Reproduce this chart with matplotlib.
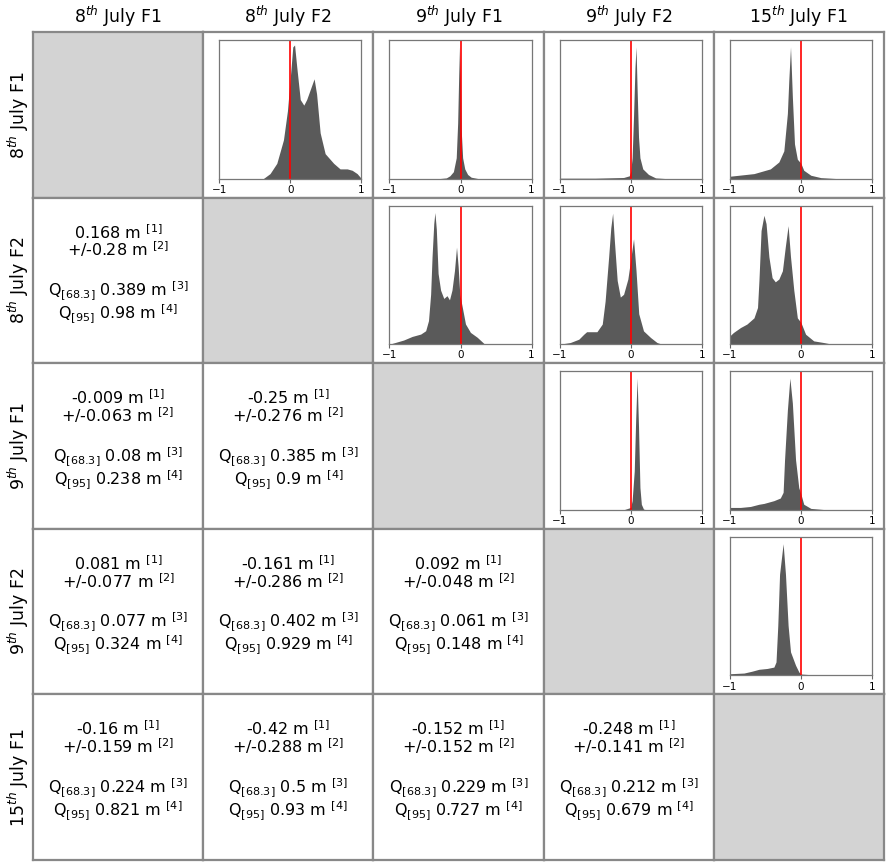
import matplotlib
matplotlib.use("Agg")
import matplotlib.pyplot as plt

# flight names (rows and columns)
labels = ["8$^{th}$ July F1", "8$^{th}$ July F2", "9$^{th}$ July F1",
          "9$^{th}$ July F2", "15$^{th}$ July F1"]

# lower triangle: mean, std, Q68.3, Q95 (m), keyed by (row, col)
stats = {
    (1, 0): ("0.168", "0.28", "0.389", "0.98"),
    (2, 0): ("-0.009", "0.063", "0.08", "0.238"),
    (2, 1): ("-0.25", "0.276", "0.385", "0.9"),
    (3, 0): ("0.081", "0.077", "0.077", "0.324"),
    (3, 1): ("-0.161", "0.286", "0.402", "0.929"),
    (3, 2): ("0.092", "0.048", "0.061", "0.148"),
    (4, 0): ("-0.16", "0.159", "0.224", "0.821"),
    (4, 1): ("-0.42", "0.288", "0.5", "0.93"),
    (4, 2): ("-0.152", "0.152", "0.229", "0.727"),
    (4, 3): ("-0.248", "0.141", "0.212", "0.679"),
}

# upper triangle: difference histograms (x in m, relative density)
h01_x = [-0.38, -0.285, -0.19, -0.096, -0.04, 0.0, 0.035, 0.06, 0.09, 0.14, 0.19, 0.23,
         0.3, 0.335, 0.37, 0.42, 0.49, 0.61, 0.70, 0.8, 0.87, 0.94, 1.0]
h01_y = [0.0, 0.036, 0.11, 0.28, 0.49, 0.73, 0.95, 0.964, 0.81, 0.57, 0.53, 0.57,
         0.67, 0.72, 0.61, 0.33, 0.18, 0.11, 0.07, 0.07, 0.06, 0.036, 0.0]

h02_x = [-0.3, -0.2, -0.15, -0.1, -0.06, -0.04, -0.025, -0.014, 0.0, 0.01, 0.03, 0.06,
         0.1, 0.15, 0.25]
h02_y = [0.0, 0.005, 0.02, 0.05, 0.15, 0.4, 0.75, 0.95, 0.7, 0.35, 0.15, 0.07,
         0.03, 0.01, 0.0]

h03_x = [-1.0, -0.5, -0.1, -0.02, 0.0, 0.02, 0.04, 0.06, 0.075, 0.09, 0.11, 0.13,
         0.17, 0.25, 0.35, 0.5]
h03_y = [0.003, 0.003, 0.008, 0.02, 0.05, 0.15, 0.45, 0.8, 0.95, 0.65, 0.3, 0.15,
         0.07, 0.03, 0.005, 0.0]

h04_x = [-1.0, -0.66, -0.43, -0.31, -0.24, -0.19, -0.17, -0.146, -0.12, -0.09, -0.05,
         0.0, 0.04, 0.14, 0.28, 0.51]
h04_y = [0.017, 0.036, 0.07, 0.12, 0.2, 0.47, 0.71, 0.95, 0.59, 0.25, 0.14,
         0.11, 0.06, 0.024, 0.007, 0.0]

h12_x = [-1.0, -0.92, -0.8, -0.68, -0.56, -0.49, -0.45, -0.42, -0.4, -0.376, -0.36,
         -0.34, -0.315, -0.28, -0.235, -0.19, -0.155, -0.12, -0.085, -0.056, -0.033,
         -0.01, 0.024, 0.07, 0.14, 0.235, 0.33, 0.35]
h12_y = [0.0, 0.012, 0.03, 0.056, 0.073, 0.097, 0.17, 0.36, 0.63, 0.87, 0.95,
         0.83, 0.51, 0.39, 0.33, 0.35, 0.32, 0.39, 0.53, 0.70, 0.56,
         0.36, 0.27, 0.146, 0.085, 0.05, 0.005, 0.0]

h13_x = [-1.0, -0.85, -0.73, -0.66, -0.62, -0.475, -0.4, -0.36, -0.31, -0.28, -0.254,
         -0.23, -0.19, -0.146, -0.1, -0.04, 0.005, 0.04, 0.075, 0.113, 0.18, 0.28,
         0.37, 0.44]
h13_y = [0.0, 0.012, 0.036, 0.072, 0.09, 0.09, 0.145, 0.31, 0.63, 0.84, 0.945,
         0.75, 0.46, 0.34, 0.36, 0.47, 0.63, 0.76, 0.53, 0.22, 0.096, 0.048,
         0.012, 0.0]

h14_x = [-1.0, -0.95, -0.85, -0.76, -0.66, -0.61, -0.59, -0.56, -0.52, -0.49, -0.45,
         -0.405, -0.36, -0.31, -0.26, -0.22, -0.18, -0.146, -0.1, -0.05, 0.0, 0.066,
         0.18, 0.32, 0.44]
h14_y = [0.06, 0.084, 0.12, 0.145, 0.19, 0.265, 0.46, 0.82, 0.93, 0.87, 0.63,
         0.48, 0.45, 0.47, 0.53, 0.70, 0.855, 0.63, 0.39, 0.19, 0.157, 0.072,
         0.024, 0.012, 0.0]

h23_x = [-0.1, 0.0, 0.02, 0.05, 0.07, 0.09, 0.11, 0.13, 0.15, 0.18, 0.22]
h23_y = [0.0, 0.017, 0.066, 0.28, 0.65, 0.95, 0.6, 0.16, 0.04, 0.005, 0.0]

h24_x = [-1.0, -0.85, -0.71, -0.59, -0.52, -0.38, -0.29, -0.25, -0.23, -0.19, -0.155,
         -0.12, -0.075, -0.03, 0.0, 0.04, 0.14, 0.32, 0.55]
h24_y = [0.017, 0.017, 0.024, 0.04, 0.046, 0.066, 0.085, 0.126, 0.36, 0.72, 0.95,
         0.77, 0.36, 0.16, 0.114, 0.04, 0.01, 0.002, 0.0]

h34_x = [-1.0, -0.8, -0.69, -0.59, -0.475, -0.38, -0.35, -0.325, -0.3, -0.25, -0.217,
         -0.18, -0.146, -0.075, -0.028, 0.0, 0.14, 1.0]
h34_y = [0.012, 0.017, 0.03, 0.044, 0.05, 0.06, 0.097, 0.36, 0.73, 0.95, 0.73,
         0.36, 0.17, 0.073, 0.024, 0.01, 0.005, 0.002]

hists = {
    (0, 1): (h01_x, h01_y), (0, 2): (h02_x, h02_y), (0, 3): (h03_x, h03_y),
    (0, 4): (h04_x, h04_y), (1, 2): (h12_x, h12_y), (1, 3): (h13_x, h13_y),
    (1, 4): (h14_x, h14_y), (2, 3): (h23_x, h23_y), (2, 4): (h24_x, h24_y),
    (3, 4): (h34_x, h34_y),
}

W, H = 886, 864
fig = plt.figure(figsize=(W / 100, H / 100), dpi=100)

x0, y0 = 33, 32           # top-left of grid in px
cw, ch = 170.2, 165.6     # cell size in px
grid_col = "#888888"
n = len(labels)

for i in range(n):
    for j in range(n):
        left = (x0 + j * cw) / W
        bottom = 1 - (y0 + (i + 1) * ch) / H
        ax = fig.add_axes([left, bottom, cw / W, ch / H])
        ax.set_xticks([])
        ax.set_yticks([])
        for s in ax.spines.values():
            s.set_color(grid_col)
            s.set_linewidth(1.6)
        if i == j:
            ax.set_facecolor("#d3d3d3")
        elif i > j:
            mean, std, q68, q95 = stats[(i, j)]
            lines = [f"{mean} m $^{{[1]}}$",
                     f"+/-{std} m $^{{[2]}}$",
                     f"Q$_{{[68.3]}}$ {q68} m $^{{[3]}}$",
                     f"Q$_{{[95]}}$ {q95} m $^{{[4]}}$"]
            for yy, t in zip([0.753, 0.645, 0.404, 0.265], lines):
                ax.text(0.5, yy, t, ha="center", va="baseline", fontsize=11.5,
                        transform=ax.transAxes)
        else:
            hx, hy = hists[(i, j)]
            ia = fig.add_axes([(x0 + j * cw + 16) / W,
                               1 - (y0 + (i + 1) * ch - 19) / H,
                               (cw - 28) / W, (ch - 27) / H])
            ia.fill_between(hx, hy, 0, color="#5a5a5a", linewidth=0)
            ia.axvline(0, color="red", linewidth=1.2)
            ia.set_xlim(-1, 1)
            ia.set_ylim(0, 1)
            ia.set_yticks([])
            ia.set_xticks([-1, 0, 1])
            ia.set_xticklabels(["\u22121", "0", "1"])
            ia.tick_params(axis="x", labelsize=7.5, length=3, pad=1.5, color="#666666")
            for s in ia.spines.values():
                s.set_color("#777777")
                s.set_linewidth(0.9)

# column headers and row labels
for k, lab in enumerate(labels):
    fig.text((x0 + (k + 0.5) * cw) / W, 1 - 16 / H, lab, ha="center", va="center",
             fontsize=12.5)
    fig.text(18 / W, 1 - (y0 + (k + 0.5) * ch) / H, lab, ha="center", va="center",
             rotation=90, fontsize=12.5)

fig.savefig("out.png", dpi=100)
